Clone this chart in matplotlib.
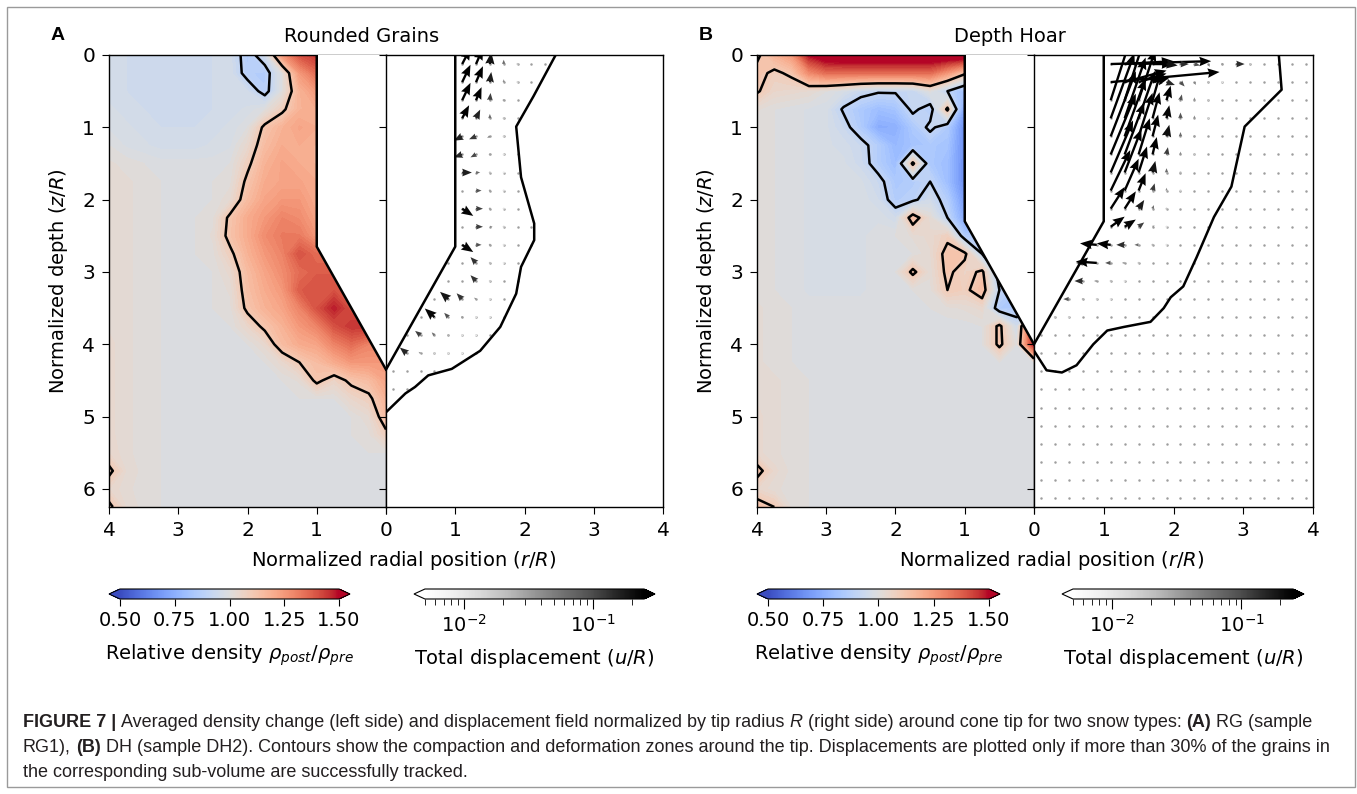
import numpy as np
import matplotlib
matplotlib.use('Agg')
import matplotlib.pyplot as plt
from matplotlib.colors import Normalize, LogNorm
from matplotlib.cm import ScalarMappable
from matplotlib.path import Path
from matplotlib.patches import Rectangle

# ---------------- data ----------------
# density grid nodes (r/R, z/R)
r_nodes = np.arange(0, 4.01, 0.25)
z_nodes = np.arange(0, 6.26, 0.25)

# relative density x100, rows = z_nodes, cols = r_nodes (Rounded Grains)
a_density = [
    [145,145,145,145,145,140,125, 95, 86, 96, 95, 95, 95, 95, 95, 95, 96],
    [135,135,135,135,135,125,100, 86, 87, 96, 95, 95, 95, 95, 95, 95, 96],
    [125,125,125,125,125,118,100, 87, 95, 96, 95, 95, 95, 95, 95, 95, 96],
    [120,120,120,120,120,118,108,100, 97, 96, 95, 95, 95, 95, 95, 96, 97],
    [120,120,120,120,120,122,118,112,100, 97, 96, 95, 95, 95, 96, 97, 98],
    [118,118,118,118,118,120,120,115,104, 98, 97, 96, 96, 96, 97, 98,100],
    [118,118,118,118,118,120,122,118,108,100, 99, 99, 99, 99,100,101,102],
    [120,120,120,120,120,122,122,120,112,101,100,100,100,100,101,102,103],
    [120,120,120,120,120,125,125,122,115,103,100,100,100,100,101,102,103],
    [122,122,122,122,122,128,130,125,120,112,101,100,100,100,101,102,103],
    [125,125,125,125,125,132,132,128,120,113,102,100,100,100,101,102,103],
    [135,135,135,135,135,140,130,125,118,108,101,100,100,100,101,102,103],
    [138,138,138,138,138,135,128,122,115,104,100,100,100,100,101,102,103],
    [140,140,140,140,140,138,125,120,114,102,100,100,100,100,101,102,103],
    [140,140,140,148,140,130,122,118,112,101,100,100,100,100,101,102,103],
    [145,145,145,140,130,125,118,112,105,100,100,100,100,100,101,102,103],
    [130,130,135,130,122,120,115,104,100,100,100,100,100,100,101,102,104],
    [125,125,125,120,115,110,104,100,100,100,100,100,100,100,101,102,104],
    [122,115,112,106,112,102,100,100,100,100,100,100,100,100,101,102,104],
    [118,108,105,100,100,100,100,100,100,100,100,100,100,100,101,102,104],
    [115,103,100,100,100,100,100,100,100,100,100,100,100,100,101,102,104],
    [108,101,100,100,100,100,100,100,100,100,100,100,100,100,101,102,104],
    [100,100,100,100,100,100,100,100,100,100,100,100,100,100,101,102,105],
    [100,100,100,100,100,100,100,100,100,100,100,100,100,100,101,103,112],
    [100,100,100,100,100,100,100,100,100,100,100,100,100,100,101,102,105],
    [100,100,100,100,100,100,100,100,100,100,100,100,100,100,101,103,112],
]

# relative density x100 (Depth Hoar)
b_density = [
    [160,160,160,160,160,160,160,160,160,160,160,160,158,150,125,118,108],
    [112,112,112,112,112,125,135,135,135,135,135,135,135,128,112,108,113],
    [ 80, 80, 80, 80, 80, 90,100, 92, 91, 91, 93, 97,100,103,104,105,111],
    [ 70, 70, 70, 70, 70,112, 86, 92, 82, 80, 84, 89, 97, 98, 99,100,102],
    [ 65, 65, 65, 65, 65, 85, 92, 84, 75, 74, 85, 93, 97, 98, 99,100,101],
    [ 65, 65, 65, 65, 65, 82, 84, 82, 78, 86, 93, 96, 97, 98, 99,100,101],
    [ 65, 65, 65, 65, 65, 80, 84,112, 80, 86, 94, 97, 98, 98, 99,100,101],
    [ 65, 65, 65, 65, 65, 80, 90, 86, 84, 93, 97, 98, 98, 98, 99,100,101],
    [ 68, 68, 68, 68, 68, 86, 95, 88, 86, 95, 98, 98, 98, 98, 99,100,101],
    [ 72, 72, 72, 72, 72, 90,102,115, 95, 98, 98, 98, 98, 98, 99,100,101],
    [ 85, 85, 85, 85, 85,108,104,102,100, 99, 98, 98, 98, 98, 99,100,101],
    [ 90, 90, 90, 90,112,113,103,100, 99, 99, 98, 98, 98, 98, 99,100,101],
    [ 85, 85, 85,112,106,112,102,112,100, 99, 98, 98, 98, 98, 99,100,101],
    [ 85, 85, 90,115,108,110,101,100, 99, 99, 98, 98, 98, 98, 99,100,101],
    [ 85, 85, 85,104,102,101,100, 99, 99, 99, 99, 99, 99, 99,100,101,102],
    [150, 95,112,100, 99, 99, 99, 99, 99, 99, 99, 99, 99, 99,100,101,102],
    [150,100,112,100, 99, 99, 99, 99, 99, 99, 99, 99, 99, 99,100,101,102],
    [100,100,100,100, 99, 99, 99, 99, 99, 99, 99, 99, 99, 99,100,101,102],
    [100,100,100,100,100,100,100,100,100,100,100,100,100,100,101,102,103],
    [100,100,100,100,100,100,100,100,100,100,100,100,100,100,101,102,103],
    [100,100,100,100,100,100,100,100,100,100,100,100,100,100,101,102,104],
    [100,100,100,100,100,100,100,100,100,100,100,100,100,100,101,102,104],
    [100,100,100,100,100,100,100,100,100,100,100,100,100,100,101,102,104],
    [100,100,100,100,100,100,100,100,100,100,100,100,100,100,101,104,113],
    [100,100,100,100,100,100,100,100,100,100,100,100,100,100,101,102,105],
    [100,100,100,100,100,100,100,100,100,100,100,100,100,100,101,110,114],
]

# cone tip geometry: shaft radius 1, end of shaft, tip depth
a_cone = (2.65, 4.35)
b_cone = (2.30, 4.00)

# outer edge of the deformation zone (r, z)
a_zone_r = [2.45, 2.13, 1.88, 1.95, 2.14, 2.14, 1.95, 1.88, 1.65, 1.36, 0.95, 0.61, 0.42, 0.28, 0.0]
a_zone_z = [0.0, 0.57, 0.99, 1.69, 2.33, 2.56, 2.93, 3.30, 3.76, 4.09, 4.34, 4.43, 4.59, 4.68, 4.94]
b_zone_r = [3.51, 3.55, 3.02, 2.83, 2.58, 2.33, 2.14, 1.96, 1.86, 1.67, 1.29, 1.05, 0.85, 0.61, 0.40, 0.18, 0.0]
b_zone_z = [0.0, 0.48, 0.99, 1.82, 2.24, 2.80, 3.20, 3.35, 3.50, 3.69, 3.76, 3.81, 4.00, 4.29, 4.39, 4.36, 4.09]

# displacement arrows: one entry per row of sub-volumes,
# first radius of the row, then u (radial) and w (depth) for r0, r0+0.2, ...
a_arrow_z = [0.125, 0.375, 0.625, 0.875, 1.125, 1.375, 1.625, 1.875, 2.125,
             2.375, 2.625, 2.875, 3.125, 3.375, 3.625, 3.875, 4.125]
a_arrow_r0 = [1.1, 1.1, 1.1, 1.1, 1.1, 1.1, 1.1, 1.3, 1.1, 1.3, 1.1, 1.3, 1.3, 0.9, 0.7, 0.5, 0.3]
a_arrow_u = [
    [.06, .05, .01, 0, 0], [.06, .05, .01, 0, 0], [.06, .04, .005, 0], [.05, .03, 0, 0],
    [-.06, -.05, -.02, -.008], [-.06, -.04, -.015, -.006], [.07, .03, .01, .005],
    [.04, .015, .006], [.08, .05, .015, .006], [.05, .02, .008], [.08, .04, .015, .006],
    [-.04, -.01, .005], [-.04, -.008], [-.06, -.04, -.015, -.006],
    [-.07, -.03, -.012, -.006, -.005], [-.04, -.02, -.01, -.006, -.005],
    [-.05, -.015, -.008, -.006, -.005],
]
a_arrow_w = [
    [-.11, -.11, -.08, -.03, -.01], [-.12, -.11, -.07, -.02, -.008], [-.12, -.09, -.05, -.015],
    [-.09, -.06, -.03, -.01], [.03, .02, .01, 0], [.02, .02, 0, 0], [0, 0, 0, 0],
    [0, 0, 0], [.05, 0, 0, 0], [0, 0, 0], [.05, 0, 0, 0],
    [-.04, 0, 0], [-.04, 0], [-.05, -.04, -.01, 0],
    [-.06, -.03, -.01, 0, 0], [-.03, -.02, -.008, 0, 0],
    [-.04, -.01, 0, 0, 0],
]

b_arrow_z = [0.125, 0.375, 0.625, 0.875, 1.125, 1.375, 1.625, 1.875, 2.125,
             2.375, 2.625, 2.875, 3.125, 3.375, 3.625]
b_arrow_r0 = [1.1, 1.1, 1.1, 1.1, 1.1, 1.1, 1.1, 1.1, 1.1, 1.1, 0.9, 0.7, 0.7, 0.5, 0.3]
b_arrow_u = [
    [.72, .35, .25, .15, .08, .06, .04, .01, .005, .06, .01],
    [.78, .30, .20, .12, .06, .03, .01, .005, 0],
    [.15, .14, .12, .06, .03, .01, 0, 0],
    [.17, .15, .12, .05, .02, 0, 0, 0],
    [.18, .15, .10, .04, .02, 0, 0],
    [.18, .14, .08, .03, .01, 0, 0],
    [.16, .12, .06, .02, 0, 0],
    [.14, .10, .05, .015, 0, 0],
    [.10, .08, .04, .01, 0],
    [.10, .08, .04, .015, .006],
    [-.12, -.10, -.06, -.03, -.012, -.006],
    [-.05, -.15, -.04, -.02, -.01],
    [-.06, -.02, -.01, -.006],
    [-.04, -.012, -.008, -.006],
    [-.01, -.008],
]
b_arrow_w = [
    [-.02, -.02, -.01, 0, .01, 0, .01, .02, .015, 0, 0],
    [-.07, -.08, -.06, -.03, .02, .03, .02, .01, .006],
    [-.45, -.42, -.35, -.20, -.10, -.04, -.02, -.01],
    [-.45, -.42, -.33, -.18, -.09, -.04, -.02, -.008],
    [-.45, -.40, -.30, -.15, -.08, -.03, -.015],
    [-.42, -.36, -.25, -.12, -.05, -.02, -.01],
    [-.36, -.30, -.18, -.08, -.03, -.012],
    [-.28, -.22, -.12, -.05, -.02, -.008],
    [-.15, -.12, -.06, -.025, -.01],
    [-.07, -.05, -.03, -.01, 0],
    [-.01, -.01, 0, 0, 0, 0],
    [0, -.01, 0, 0, 0],
    [0, 0, 0, 0],
    [0, 0, 0, 0],
    [0, 0],
]

# sub-volume centres of the displacement grid
grid_r = np.arange(0.1, 4.0, 0.2)
grid_z = np.arange(0.125, 6.2, 0.25)

titles = ['Rounded Grains', 'Depth Hoar']
letters = ['A', 'B']
dens_ticks = [0.50, 0.75, 1.00, 1.25, 1.50]

# ---------------- layout ----------------
W, H = 1357, 794
fig = plt.figure(figsize=(W / 100, H / 100), dpi=100)


def rect(x0, y0, x1, y1):
    return [x0 / W, 1 - y1 / H, (x1 - x0) / W, (y1 - y0) / H]


dens_norm = Normalize(0.5, 1.5)
disp_norm = LogNorm(0.005, 0.25)
arrow_norm = LogNorm(0.003, 0.1)   # arrows rendered a bit darker than the bar
dens_levels = np.linspace(0.5, 1.5, 61)

panels = [
    dict(dens=a_density, cone=a_cone, zr=a_zone_r, zz=a_zone_z,
         az=a_arrow_z, ar0=a_arrow_r0, au=a_arrow_u, aw=a_arrow_w,
         x0=109, xc=386, x1=663, cb1=(109, 350), cb2=(414, 655), all_dots=False),
    dict(dens=b_density, cone=b_cone, zr=b_zone_r, zz=b_zone_z,
         az=b_arrow_z, ar0=b_arrow_r0, au=b_arrow_u, aw=b_arrow_w,
         x0=757, xc=1034, x1=1313, cb1=(757, 1000), cb2=(1062, 1304), all_dots=True),
]

for i, p in enumerate(panels):
    zc, zt = p['cone']
    D = np.array(p['dens']) / 100.0

    # density half
    axL = fig.add_axes(rect(p['x0'], 55, p['xc'], 507))
    axL.contourf(r_nodes, z_nodes, D, levels=dens_levels, cmap='coolwarm',
                 extend='both', zorder=1)
    axL.contour(r_nodes, z_nodes, D, levels=[0.9, 1.1], colors='k',
                linewidths=1.8, zorder=2)
    axL.fill([0, 1, 1, 0], [-0.1, -0.1, zc, zt], color='white', zorder=3)
    axL.plot([1, 1, 0], [0, zc, zt], color='k', lw=1.8, zorder=4)
    axL.set_xlim(4, 0)
    axL.set_ylim(6.25, 0)
    axL.set_xticks([4, 3, 2, 1, 0])
    axL.set_yticks(range(7))

    # displacement half
    axR = fig.add_axes(rect(p['xc'], 55, p['x1'], 507))
    axR.set_xlim(0, 4)
    axR.set_ylim(6.25, 0)
    axR.set_xticks([0, 1, 2, 3, 4])
    axR.set_xticklabels(['', '1', '2', '3', '4'])
    axR.set_yticks(range(7))
    axR.set_yticklabels([])

    gr, gz = np.meshgrid(grid_r, grid_z)
    gr, gz = gr.ravel(), gz.ravel()
    radius = np.where(gz < zc, 1.0, (zt - gz) / (zt - zc))
    if p['all_dots']:
        keep = gr > radius + 0.02
    else:
        poly = list(zip(p['zr'], p['zz'])) + [(0, zt), (1, zc), (1, 0)]
        keep = Path(poly).contains_points(np.c_[gr, gz])
    axR.scatter(gr[keep], gz[keep], s=3.2, color='0.62', lw=0, zorder=2)

    ar, az, au, aw = [], [], [], []
    for z, r0, us, ws in zip(p['az'], p['ar0'], p['au'], p['aw']):
        for k, (u, w) in enumerate(zip(us, ws)):
            ar.append(r0 + 0.2 * k)
            az.append(z)
            au.append(u)
            aw.append(w)
    ar, az, au, aw = map(np.array, (ar, az, au, aw))
    mag = np.hypot(au, aw)
    axR.quiver(ar, az, au, aw, mag, cmap='Greys', norm=arrow_norm, angles='xy',
               scale_units='xy', scale=0.5, width=0.0085, headwidth=4,
               headlength=5, headaxislength=4.5, zorder=3)
    axR.plot([1, 1, 0], [0, zc, zt], color='k', lw=1.8, zorder=4)
    axR.plot(p['zr'], p['zz'], color='k', lw=1.8, zorder=4)

    for ax in (axL, axR):
        ax.tick_params(labelsize=14.5, length=5, pad=5, direction='out')
        for s in ax.spines.values():
            s.set_linewidth(1.0)

    # labels
    fig.text((p['x0'] - 51) / W, 1 - 35 / H, letters[i], fontsize=14,
             fontweight='bold', family='Liberation Sans', ha='center', va='center')
    fig.text((p['xc'] - 24) / W, 1 - 36 / H, titles[i], fontsize=14,
             ha='center', va='center')
    fig.text((p['xc'] + 18) / W, 1 - 560 / H, 'Normalized radial position ($r/R$)',
             fontsize=14, ha='center', va='center')
    fig.text((p['x0'] - 51) / W, 1 - 281 / H, 'Normalized depth ($z/R$)',
             fontsize=14, ha='center', va='center', rotation=90)

    # colorbars
    cax1 = fig.add_axes(rect(p['cb1'][0], 589, p['cb1'][1], 599))
    cb1 = fig.colorbar(ScalarMappable(norm=dens_norm, cmap='coolwarm'), cax=cax1,
                       orientation='horizontal', extend='both', ticks=dens_ticks)
    cb1.ax.set_xticklabels(['%.2f' % t for t in dens_ticks])
    cb1.ax.tick_params(labelsize=14, length=5)
    cb1.set_label(r'Relative density $\rho_{post}/\rho_{pre}$', fontsize=14, labelpad=9)

    cax2 = fig.add_axes(rect(p['cb2'][0], 589, p['cb2'][1], 599))
    cb2 = fig.colorbar(ScalarMappable(norm=disp_norm, cmap='Greys'), cax=cax2,
                       orientation='horizontal', extend='both')
    cb2.minorticks_on()
    cb2.ax.tick_params(which='major', labelsize=14, length=7)
    cb2.ax.tick_params(which='minor', length=4)
    cb2.set_label('Total displacement ($u/R$)', fontsize=14, labelpad=8)

# ---------------- caption ----------------
renderer = fig.canvas.get_renderer()
cap_kw = dict(fontsize=12.95, family='Liberation Sans', color='#231f20', va='baseline')


def text_width(s, **kw):
    t = fig.text(0, 0, s, **{**cap_kw, **kw})
    w = t.get_window_extent(renderer).width
    t.remove()
    return w


space = text_width('x x') - text_width('xx')
caption = [
    [('FIGURE 7 |', 'bold', 'normal'),
     ('Averaged density change (left side) and displacement field normalized by tip radius', 'normal', 'normal'),
     ('R', 'normal', 'italic'),
     ('(right side) around cone tip for two snow types:', 'normal', 'normal'),
     ('(A)', 'bold', 'normal'), ('RG (sample', 'normal', 'normal')],
    [('RG1),', 'normal', 'normal'), ('(B)', 'bold', 'normal'),
     ('DH (sample DH2). Contours show the compaction and deformation zones around the tip. '
      'Displacements are plotted only if more than 30% of the grains in', 'normal', 'normal')],
    [('the corresponding sub-volume are successfully tracked.', 'normal', 'normal')],
]
for j, line in enumerate(caption):
    x = 23
    y = 727 + 25 * j
    for s, weight, style in line:
        t = fig.text(x / W, 1 - y / H, s, fontweight=weight, fontstyle=style, **cap_kw)
        x += t.get_window_extent(renderer).width + space

fig.add_artist(Rectangle((7 / W, 1 - 787 / H), (1355 - 7) / W, (787 - 7) / H,
                         transform=fig.transFigure, fill=False,
                         edgecolor='#9a9a9a', lw=1))

fig.savefig('out.png', dpi=100)
